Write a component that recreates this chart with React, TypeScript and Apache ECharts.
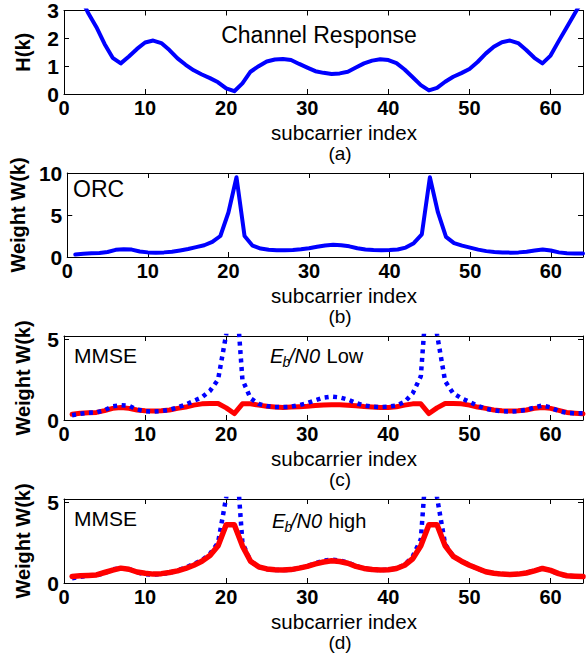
import React, { useEffect, useRef } from "react";
import * as echarts from "echarts";

const subcarrierIndex = [
  1, 2, 3, 4, 5, 6, 7, 8, 9, 10, 11, 12, 13, 14, 15, 16, 17, 18, 19, 20, 21, 22, 23, 24, 25, 26, 27, 28, 29, 30, 31, 32,
  33, 34, 35, 36, 37, 38, 39, 40, 41, 42, 43, 44, 45, 46, 47, 48, 49, 50, 51, 52, 53, 54, 55, 56, 57, 58, 59, 60, 61, 62, 63, 64,
];

const channelResponse = [
  4.2, 3.5, 2.9, 2.4, 1.8, 1.3, 1.1, 1.35, 1.62, 1.85, 1.92, 1.83, 1.58, 1.28, 1.05, 0.85, 0.7, 0.57, 0.42, 0.2, 0.1, 0.38,
  0.8, 1.0, 1.17, 1.24, 1.26, 1.22, 1.08, 0.95, 0.82, 0.76, 0.72, 0.74, 0.8, 0.95, 1.1, 1.2, 1.25, 1.22, 1.11, 0.88, 0.6,
  0.32, 0.13, 0.22, 0.44, 0.62, 0.75, 0.9, 1.15, 1.45, 1.7, 1.86, 1.92, 1.83, 1.58, 1.3, 1.1, 1.38, 1.9, 2.4, 2.9, 3.4,
];

const orcWeight = [
  0.3, 0.38, 0.45, 0.47, 0.6, 0.85, 0.92, 0.88, 0.65, 0.55, 0.52, 0.55, 0.63, 0.78, 0.95, 1.18, 1.4, 1.8, 2.5, 5.3, 9.5,
  2.5, 1.35, 1.0, 0.86, 0.81, 0.8, 0.82, 0.92, 1.05, 1.22, 1.38, 1.45, 1.4, 1.27, 1.05, 0.9, 0.83, 0.8, 0.82, 0.9, 1.12,
  1.65, 2.7, 9.5, 5.3, 2.4, 1.65, 1.35, 1.12, 0.88, 0.7, 0.6, 0.54, 0.52, 0.55, 0.63, 0.77, 0.9, 0.78, 0.55, 0.45, 0.42,
  0.42,
];

const mmseLow = [
  0.35, 0.42, 0.45, 0.47, 0.58, 0.72, 0.78, 0.72, 0.62, 0.57, 0.55, 0.57, 0.62, 0.72, 0.8, 0.92, 1.0, 1.02, 1.02, 0.75,
  0.4, 1.0, 1.0, 0.92, 0.85, 0.8, 0.78, 0.8, 0.82, 0.85, 0.9, 0.93, 0.95, 0.94, 0.92, 0.88, 0.83, 0.8, 0.78, 0.78, 0.82,
  0.92, 1.0, 1.0, 0.4, 0.75, 1.02, 1.02, 1.0, 0.92, 0.8, 0.72, 0.62, 0.57, 0.55, 0.57, 0.62, 0.72, 0.78, 0.72, 0.6, 0.47,
  0.42, 0.38,
];

const mmseHigh = [
  0.4, 0.45, 0.47, 0.5, 0.65, 0.8, 0.92, 0.85, 0.68, 0.6, 0.55, 0.58, 0.65, 0.75, 0.9, 1.1, 1.35, 1.7, 2.3, 3.6, 3.6, 2.3,
  1.35, 1.0, 0.87, 0.82, 0.81, 0.83, 0.92, 1.03, 1.18, 1.3, 1.38, 1.33, 1.22, 1.03, 0.9, 0.83, 0.81, 0.82, 0.9, 1.1, 1.5,
  2.3, 3.6, 3.6, 2.3, 1.65, 1.35, 1.1, 0.9, 0.7, 0.6, 0.55, 0.52, 0.55, 0.62, 0.75, 0.9, 0.78, 0.58, 0.45, 0.42, 0.4,
];

const xTicks = [0, 10, 20, 30, 40, 50, 60];
const panelLetters = ["(a)", "(b)", "(c)", "(d)"];
const yAxisNames = ["H(k)", "Weight W(k)", "Weight W(k)", "Weight W(k)"];
const yMax = [3, 10, 5.2, 5.2];
const yInterval = [1, 5, 5, 5];

const FONT = "'Liberation Sans', Arial, Helvetica, sans-serif";
const BLUE = "#0000ff";
const RED = "#ff0000";

const pairs = (ys: number[]) => subcarrierIndex.map((k, i) => [k, ys[i]]);

export default function App() {
  const ref = useRef<HTMLDivElement>(null);

  useEffect(() => {
    if (!ref.current) return;
    const chart = echarts.init(ref.current, undefined, { renderer: "svg" });

    const boxLeft = 64;
    const boxWidth = 519;
    const boxHeight = 84;
    const tops = [10, 173, 336, 499];

    const grid = tops.map((t) => ({ left: boxLeft, top: t, width: boxWidth, height: boxHeight, containLabel: false }));

    const xAxis: any[] = [];
    const yAxis: any[] = [];
    tops.forEach((_, i) => {
      const tickBase = {
        inside: true,
        length: 5,
        lineStyle: { color: "#000", width: 1 },
      };
      xAxis.push({
        type: "value",
        gridIndex: i,
        min: 0,
        max: 64,
        interval: 10,
        position: "bottom",
        axisLine: { show: true, onZero: false, lineStyle: { color: "#000", width: 1 } },
        axisTick: tickBase,
        splitLine: { show: false },
        axisLabel: {
          margin: 4,
          color: "#000",
          fontFamily: FONT,
          fontWeight: "bold",
          fontSize: 20,
          lineHeight: 20,
          formatter: (v: number) => (xTicks.includes(v) ? String(v) : ""),
        },
      });
      xAxis.push({
        type: "value",
        gridIndex: i,
        min: 0,
        max: 64,
        interval: 10,
        position: "top",
        axisLine: { show: true, onZero: false, lineStyle: { color: "#000", width: 1 } },
        axisTick: tickBase,
        splitLine: { show: false },
        axisLabel: { show: false },
      });
      yAxis.push({
        type: "value",
        gridIndex: i,
        min: 0,
        max: yMax[i],
        interval: yInterval[i],
        position: "left",
        name: yAxisNames[i],
        nameLocation: "middle",
        nameGap: 31,
        nameTextStyle: { fontFamily: FONT, fontWeight: "bold", fontSize: 20, color: "#000" },
        axisLine: { show: true, onZero: false, lineStyle: { color: "#000", width: 1 } },
        axisTick: tickBase,
        splitLine: { show: false },
        axisLabel: {
          margin: 5,
          color: "#000",
          fontFamily: FONT,
          fontWeight: "bold",
          fontSize: 21,
          formatter: (v: number) => (Math.abs(v % yInterval[i]) < 1e-9 ? String(v) : ""),
        },
      });
      yAxis.push({
        type: "value",
        gridIndex: i,
        min: 0,
        max: yMax[i],
        interval: yInterval[i],
        position: "right",
        axisLine: { show: true, onZero: false, lineStyle: { color: "#000", width: 1 } },
        axisTick: tickBase,
        splitLine: { show: false },
        axisLabel: { show: false },
      });
    });

    const lineSeries = (grid: number, data: number[], color: string, width: number, dotted = false, z = 2) => ({
      type: "line",
      xAxisIndex: grid * 2,
      yAxisIndex: grid * 2,
      data: pairs(data),
      showSymbol: false,
      symbol: "none",
      clip: true,
      z,
      lineStyle: dotted
        ? { color, width, type: [4, 4.5], cap: "butt" }
        : { color, width, type: "solid", join: "round", cap: "round" },
    });

    const series = [
      lineSeries(0, channelResponse, BLUE, 4),
      lineSeries(1, orcWeight, BLUE, 4),
      lineSeries(2, mmseLow, RED, 5, false, 2),
      lineSeries(2, orcWeight, BLUE, 4.5, true, 3),
      lineSeries(3, orcWeight, BLUE, 4.5, true, 2),
      lineSeries(3, mmseHigh, RED, 5.5, false, 3),
    ];

    const txt = (text: string, x: number, y: number, size: number, extra: any = {}) => ({
      type: "text",
      x,
      y,
      silent: true,
      style: {
        text,
        fill: "#000",
        font: `${extra.italic ? "italic " : ""}${extra.bold ? "bold " : ""}${size}px ${FONT}`,
        lineHeight: size,
        align: extra.align || "left",
        verticalAlign: "middle",
      },
    });

    const graphics: any[] = [];
    tops.forEach((t, i) => {
      const bottom = t + boxHeight;
      graphics.push(txt("subcarrier index", 344, bottom + 38, 20.5, { align: "center" }));
      graphics.push(txt(panelLetters[i], 340, bottom + 59, 19, { align: "center" }));
    });
    graphics.push(txt("Channel Response", 319, tops[0] + 25, 23, { align: "center" }));
    graphics.push(txt("ORC", 73, tops[1] + 16, 23));
    graphics.push(txt("MMSE", 74, tops[2] + 19, 21));
    graphics.push(txt("MMSE", 74, tops[3] + 19, 21));

    const ebn0 = (x: number, y: number, suffix: string) => [
      txt("E", x, y, 20, { italic: true }),
      txt("b", x + 12.5, y + 6, 14, { italic: true }),
      txt("/N0", x + 19, y, 20, { italic: true }),
      txt(suffix, x + 51, y, 20),
    ];
    graphics.push(...ebn0(270, tops[2] + 20, " Low"));
    graphics.push(...ebn0(272, tops[3] + 22, " high"));

    chart.setOption({
      animation: false,
      backgroundColor: "#fff",
      grid,
      xAxis,
      yAxis,
      series,
      graphic: graphics,
    });

    return () => chart.dispose();
  }, []);

  return <div ref={ref} style={{ position: "fixed", left: 0, top: 0, width: 588, height: 653 }} />;
}
